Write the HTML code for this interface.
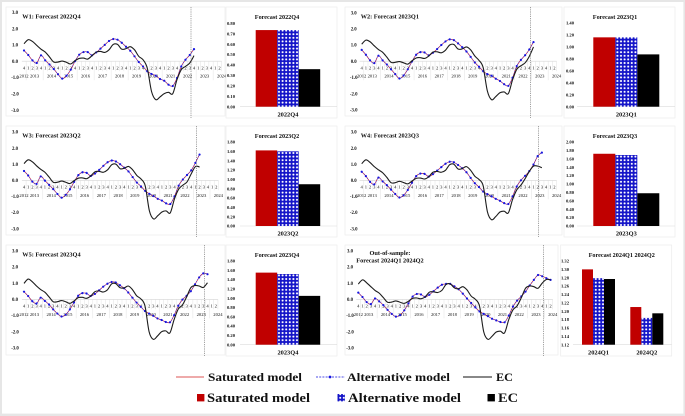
<!DOCTYPE html>
<html lang="en">
<head>
<meta charset="utf-8">
<title>Forecast comparison charts</title>
<style>
html,body{margin:0;padding:0;background:#fff;width:685px;height:416px;overflow:hidden}
svg{display:block;font-family:"Liberation Serif",serif}
text{fill:#111}
#panels{filter:blur(0.25px)}
</style>
</head>
<body>
<svg id="figure" width="685" height="416" viewBox="0 0 685 416" xmlns="http://www.w3.org/2000/svg">
<defs>
<pattern id="dots" width="3.6" height="3.6" patternUnits="userSpaceOnUse">
<rect width="3.6" height="3.6" fill="#1414c8"/>
<circle cx="1.8" cy="1.8" r="1.05" fill="#fff"/>
</pattern>
</defs>
<rect width="685" height="416" fill="#e6e6e6"/>
<rect x="2" y="2" width="681.4" height="411.6" fill="#fff"/>
<g id="panels"></g>
<g font-weight="bold" font-size="12">
<line x1="176" x2="204" y1="377" y2="377" stroke="#d01c1c" stroke-width="0.8"/>
<text x="208" y="381" textLength="94" lengthAdjust="spacingAndGlyphs">Saturated model</text>
<line x1="316" x2="345" y1="377" y2="377" stroke="#1414e0" stroke-width="0.8" stroke-dasharray="2 1.2"/>
<circle cx="330" cy="377" r="1.4" fill="#1414e0"/>
<text x="347" y="381" textLength="103" lengthAdjust="spacingAndGlyphs">Alternative model</text>
<line x1="463" x2="492" y1="377" y2="377" stroke="#111" stroke-width="0.9"/>
<text x="496" y="381" textLength="17" lengthAdjust="spacingAndGlyphs">EC</text>
</g>
<g font-weight="bold" font-size="13">
<rect x="197" y="394" width="7.4" height="7.4" fill="#c00000"/>
<text x="207" y="402" textLength="103" lengthAdjust="spacingAndGlyphs">Saturated model</text>
<rect x="337.5" y="394" width="7.4" height="7.4" fill="url(#dots)"/>
<text x="348" y="402" textLength="113" lengthAdjust="spacingAndGlyphs">Alternative model</text>
<rect x="487.5" y="394" width="7.4" height="7.4" fill="#000"/>
<text x="498" y="402" textLength="20" lengthAdjust="spacingAndGlyphs">EC</text>
</g>
</svg>
<script>
// ---------- axis labels ----------
const quarterLabels = ['4','1','2','3','4','1','2','3','4','1','2','3','4','1','2','3','4','1','2','3','4','1','2','3','4','1','2','3','4','1','2','3','4','1','2','3','4','1','2','3','4','1','2','3','4','1','2'];
const yearLabels = ['2012','2013','2014','2015','2016','2017','2018','2019','2020','2021','2022','2023','2024'];
const lineTicks = [3, 2, 1, 0, -1, -2, -3];

// ---------- line series ----------
const satW1 = [0.66,0.38,0.05,-0.11,0.36,0.05,-0.2,-0.48,-0.8,-1.07,-0.89,-0.52,0,0.4,0.56,0.56,0.36,0.54,0.77,1.0,1.24,1.36,1.32,1.13,0.89,0.64,0.3,-0.05,-0.32,-0.62,-0.78,-0.89,-1.09,-1.2,-1.44,-1.52,-1.03,-0.32,0.09,0.38,0.76];
const altW1 = [0.66,0.38,0.05,-0.11,0.36,0.05,-0.2,-0.48,-0.8,-1.07,-0.89,-0.52,0,0.4,0.56,0.56,0.36,0.54,0.77,1.0,1.24,1.36,1.32,1.13,0.89,0.64,0.3,-0.05,-0.32,-0.62,-0.78,-0.89,-1.09,-1.2,-1.44,-1.52,-1.03,-0.32,0.09,0.38,0.74];
const ecW1 = [1.07,1.32,1.21,0.97,0.74,0.56,0.26,-0.05,-0.05,0.01,-0.07,-0.17,0.03,0.17,0.19,0.13,0.34,0.56,0.6,0.54,0.7,1.03,1.03,0.74,0.77,0.89,0.7,0.3,0.09,-0.42,-1.85,-2.36,-2.19,-1.99,-1.91,-1.99,-1.13,-0.52,-0.32,-0.11,0.34];

const satW2 = [0.7,0.4,0.05,-0.12,0.34,0.05,-0.2,-0.5,-0.8,-1.07,-0.88,-0.5,-0.02,0.4,0.56,0.54,0.36,0.52,0.75,1.0,1.22,1.35,1.3,1.1,0.86,0.6,0.27,-0.08,-0.34,-0.62,-0.8,-0.9,-1.08,-1.22,-1.42,-1.52,-1.02,-0.3,0.08,0.37,0.72,1.2];
const altW2 = [0.7,0.4,0.05,-0.12,0.34,0.05,-0.2,-0.5,-0.8,-1.07,-0.88,-0.5,-0.02,0.4,0.56,0.54,0.36,0.52,0.75,1.0,1.22,1.35,1.3,1.1,0.86,0.6,0.27,-0.08,-0.34,-0.62,-0.8,-0.9,-1.08,-1.22,-1.42,-1.52,-1.02,-0.3,0.08,0.37,0.72,1.18];
const ecW2 = [1.05,1.3,1.2,0.95,0.72,0.55,0.25,-0.07,-0.07,-0.02,-0.1,-0.18,0.02,0.2,0.22,0.17,0.32,0.56,0.58,0.52,0.68,1.0,1.03,0.75,0.76,0.88,0.7,0.32,0.05,-0.4,-1.85,-2.38,-2.18,-1.95,-1.9,-2.0,-1.15,-0.5,-0.28,-0.1,0.3,0.88];

const satW3 = [0.58,0.3,-0.08,-0.22,0.24,-0.02,-0.28,-0.55,-0.85,-1.08,-0.9,-0.56,-0.1,0.32,0.5,0.46,0.27,0.42,0.65,0.9,1.12,1.23,1.17,1.0,0.78,0.55,0.2,-0.14,-0.38,-0.66,-0.84,-0.98,-1.15,-1.26,-1.43,-1.47,-1.0,-0.33,0.05,0.33,0.62,1.08,1.62];
const altW3 = [0.58,0.3,-0.08,-0.22,0.24,-0.02,-0.28,-0.55,-0.85,-1.08,-0.9,-0.56,-0.1,0.32,0.5,0.46,0.27,0.42,0.65,0.9,1.12,1.23,1.17,1.0,0.78,0.55,0.2,-0.14,-0.38,-0.66,-0.84,-0.98,-1.15,-1.26,-1.43,-1.47,-1.0,-0.33,0.05,0.33,0.62,1.08,1.6];
const ecW3 = [1.04,1.27,1.15,0.9,0.68,0.5,0.2,-0.12,-0.12,-0.05,-0.12,-0.2,-0.02,0.13,0.15,0.1,0.28,0.53,0.55,0.5,0.65,0.97,1.0,0.72,0.75,0.86,0.65,0.3,0.08,-0.35,-1.9,-2.4,-2.2,-1.97,-1.9,-2.02,-1.15,-0.55,-0.3,-0.1,0.4,0.85,0.83];

const satW4 = [0.53,0.26,-0.1,-0.25,0.17,-0.07,-0.3,-0.58,-0.85,-1.07,-0.93,-0.6,-0.15,0.26,0.42,0.4,0.23,0.38,0.6,0.82,1.03,1.15,1.12,0.95,0.75,0.5,0.15,-0.18,-0.42,-0.7,-0.86,-1.0,-1.15,-1.27,-1.42,-1.47,-1.0,-0.38,0,0.28,0.57,0.98,1.5,1.74];
const altW4 = [0.53,0.26,-0.1,-0.25,0.17,-0.07,-0.3,-0.58,-0.85,-1.07,-0.93,-0.6,-0.15,0.26,0.42,0.4,0.23,0.38,0.6,0.82,1.03,1.15,1.12,0.95,0.75,0.5,0.15,-0.18,-0.42,-0.7,-0.86,-1.0,-1.15,-1.27,-1.42,-1.47,-1.0,-0.38,0,0.28,0.57,0.98,1.5,1.72];
const ecW4 = [1.03,1.27,1.1,0.85,0.65,0.47,0.18,-0.15,-0.15,-0.06,-0.14,-0.22,-0.05,0.12,0.14,0.08,0.22,0.5,0.55,0.5,0.62,0.97,1.0,0.7,0.73,0.85,0.62,0.25,0.05,-0.35,-1.95,-2.45,-2.25,-1.97,-1.92,-2.02,-1.2,-0.6,-0.3,0.1,0.55,0.88,0.88,0.78];

const satW5 = [0.47,0.2,-0.12,-0.26,0.1,-0.1,-0.32,-0.62,-0.88,-1.06,-0.95,-0.62,-0.2,0.22,0.38,0.36,0.2,0.33,0.55,0.78,0.96,1.07,1.04,0.87,0.68,0.42,0.1,-0.2,-0.46,-0.72,-0.88,-1.02,-1.18,-1.28,-1.4,-1.42,-0.98,-0.4,-0.02,0.22,0.5,0.92,1.35,1.6,1.57];
const altW5 = [0.47,0.2,-0.12,-0.26,0.1,-0.1,-0.32,-0.62,-0.88,-1.06,-0.95,-0.62,-0.2,0.22,0.38,0.36,0.2,0.33,0.55,0.78,0.96,1.07,1.04,0.87,0.68,0.42,0.1,-0.2,-0.46,-0.72,-0.88,-1.02,-1.18,-1.28,-1.4,-1.42,-0.98,-0.4,-0.02,0.22,0.5,0.92,1.35,1.6,1.55];
const ecW5 = [0.98,1.25,1.08,0.82,0.6,0.44,0.15,-0.15,-0.15,-0.08,-0.15,-0.25,-0.1,0.1,0.12,0.06,0.2,0.47,0.52,0.45,0.58,0.95,0.97,0.72,0.7,0.82,0.6,0.22,0.03,-0.4,-2.0,-2.47,-2.27,-2.0,-1.95,-2.07,-1.25,-0.6,-0.35,0.15,0.72,0.85,0.82,0.73,1.02];

const satW6 = [0.41,0.14,-0.17,-0.3,0.05,-0.13,-0.36,-0.65,-0.9,-1.07,-0.98,-0.68,-0.25,0.17,0.33,0.3,0.15,0.28,0.5,0.72,0.9,0.95,0.95,0.8,0.62,0.35,0.05,-0.23,-0.5,-0.75,-0.9,-1.04,-1.2,-1.3,-1.4,-1.42,-1.0,-0.45,-0.08,0.18,0.47,0.85,1.2,1.5,1.43,1.31,1.2];
const altW6 = [0.41,0.14,-0.17,-0.3,0.05,-0.13,-0.36,-0.65,-0.9,-1.07,-0.98,-0.68,-0.25,0.17,0.33,0.3,0.15,0.28,0.5,0.72,0.9,0.95,0.95,0.8,0.62,0.35,0.05,-0.23,-0.5,-0.75,-0.9,-1.04,-1.2,-1.3,-1.4,-1.42,-1.0,-0.45,-0.08,0.18,0.47,0.85,1.2,1.5,1.42,1.3,1.2];
const ecW6 = [0.94,1.2,1.02,0.78,0.55,0.38,0.1,-0.18,-0.17,-0.1,-0.18,-0.25,-0.12,0.06,0.08,0.03,0.15,0.44,0.46,0.42,0.55,0.92,0.95,0.7,0.65,0.78,0.58,0.2,0,-0.42,-2.0,-2.47,-2.28,-2.02,-1.97,-2.07,-1.25,-0.65,-0.4,0.1,0.68,0.82,0.78,0.68,1.0,1.22,1.2];

// ---------- bar series ----------
const barCatsW1 = ['2022Q4'];
const barSatW1 = [0.735];
const barAltW1 = [0.735];
const barEcW1 = [0.36];
const barTicksW1 = ['0.00','0.10','0.20','0.30','0.40','0.50','0.60','0.70','0.80'];

const barCatsW2 = ['2023Q1'];
const barSatW2 = [1.16];
const barAltW2 = [1.16];
const barEcW2 = [0.875];
const barTicksW2 = ['0.00','0.20','0.40','0.60','0.80','1.00','1.20','1.40'];

const barCatsW3 = ['2023Q2'];
const barSatW3 = [1.62];
const barAltW3 = [1.6];
const barEcW3 = [0.895];
const barTicksW3 = ['0.00','0.20','0.40','0.60','0.80','1.00','1.20','1.40','1.60','1.80'];

const barCatsW4 = ['2023Q3'];
const barSatW4 = [1.72];
const barAltW4 = [1.69];
const barEcW4 = [0.78];
const barTicksW4 = ['0.00','0.20','0.40','0.60','0.80','1.00','1.20','1.40','1.60','1.80','2.00'];

const barCatsW5 = ['2023Q4'];
const barSatW5 = [1.55];
const barAltW5 = [1.52];
const barEcW5 = [1.05];
const barTicksW5 = ['0.00','0.20','0.40','0.60','0.80','1.00','1.20','1.40','1.60','1.80'];

const barCatsW6 = ['2024Q1','2024Q2'];
const barSatW6 = [1.30,1.21];
const barAltW6 = [1.279,1.184];
const barEcW6 = [1.277,1.195];
const barTicksW6 = ['1.12','1.14','1.16','1.18','1.20','1.22','1.24','1.26','1.28','1.30','1.32'];

// ---------- panel definitions ----------
const panels = [
 {id:'w1',title:['W1: Forecast 2022Q4'],barTitle:'Forecast 2022Q4',sat:satW1,alt:altW1,ec:ecW1,cats:barCatsW1,bs:barSatW1,ba:barAltW1,be:barEcW1,ticks:barTicksW1,
  box:[6,7,219,109],titleX:22.3,titleY:18.5,x0:24,step:4.25,zero:61.2,unit:16.3,vline:191,yLab:15,
  barBox:[226,7,111,111],barTop:23.3,barBase:106.7,barLab:231,axisL:240,barLeft:255.7,barW:21.5,catStep:0,barTitleX:277,barTitleY:19,catY:116.5},
 {id:'w2',title:['W2: Forecast 2023Q1'],barTitle:'Forecast 2023Q1',sat:satW2,alt:altW2,ec:ecW2,cats:barCatsW2,bs:barSatW2,ba:barAltW2,be:barEcW2,ticks:barTicksW2,
  box:[345,7,217,109],titleX:360.7,titleY:18.5,x0:361.7,step:4.19,zero:61.2,unit:16.2,vline:530.5,yLab:353.7,
  barBox:[564,7,111,111],barTop:23,barBase:106.7,barLab:570,axisL:577,barLeft:593.3,barW:22,catStep:0,barTitleX:615,barTitleY:19,catY:116.5},
 {id:'w3',title:['W3: Forecast 2023Q2'],barTitle:'Forecast 2023Q2',sat:satW3,alt:altW3,ec:ecW3,cats:barCatsW3,bs:barSatW3,ba:barAltW3,be:barEcW3,ticks:barTicksW3,
  box:[6,126,219,109],titleX:22.3,titleY:137.5,x0:24,step:4.18,zero:180.3,unit:16.1,vline:196.3,yLab:15,
  barBox:[226,126,111,111],barTop:142,barBase:226,barLab:231,axisL:240,barLeft:255.7,barW:21.5,catStep:0,barTitleX:277,barTitleY:138,catY:235.5},
 {id:'w4',title:['W4: Forecast 2023Q3'],barTitle:'Forecast 2023Q3',sat:satW4,alt:altW4,ec:ecW4,cats:barCatsW4,bs:barSatW4,ba:barAltW4,be:barEcW4,ticks:barTicksW4,
  box:[345,126,217,109],titleX:360.7,titleY:137.5,x0:361.7,step:4.19,zero:180.3,unit:16.1,vline:538.7,yLab:353.7,
  barBox:[564,126,111,111],barTop:142,barBase:226,barLab:570,axisL:577,barLeft:593.3,barW:22,catStep:0,barTitleX:615,barTitleY:138,catY:235.5},
 {id:'w5',title:['W5: Forecast 2023Q4'],barTitle:'Forecast 2023Q4',sat:satW5,alt:altW5,ec:ecW5,cats:barCatsW5,bs:barSatW5,ba:barAltW5,be:barEcW5,ticks:barTicksW5,
  box:[6,245,219,110],titleX:22.3,titleY:256.5,x0:24,step:4.17,zero:299.3,unit:16.2,vline:204.3,yLab:15,
  barBox:[226,245,111,111],barTop:261,barBase:344.7,barLab:231,axisL:240,barLeft:255.7,barW:21.5,catStep:0,barTitleX:277,barTitleY:257,catY:354.5},
 {id:'w6',title:['Out-of-sample:','Forecast 2024Q1 2024Q2'],barTitle:'Forecast 2024Q1 2024Q2',sat:satW6,alt:altW6,ec:ecW6,cats:barCatsW6,bs:barSatW6,ba:barAltW6,be:barEcW6,ticks:barTicksW6,
  box:[345,245,213,110],titleX:390,titleY:255,x0:358.3,step:4.18,zero:299.3,unit:16.2,vline:543.3,yLab:350,
  barBox:[560.7,245,111,111],barTop:261,barBase:344.7,barLab:565,axisL:573,barLeft:582,barW:11,catStep:48.3,barTitleX:621.7,barTitleY:257,catY:354.5}
];

// ---------- drawing ----------
const NS = 'http://www.w3.org/2000/svg';
const root = document.getElementById('panels');

function mk(parent, tag, attrs, txt) {
  const el = document.createElementNS(NS, tag);
  for (const k in attrs) el.setAttribute(k, attrs[k]);
  if (txt !== undefined) el.textContent = txt;
  parent.appendChild(el);
  return el;
}

function smoothPath(pts) {
  let d = 'M' + pts[0][0].toFixed(2) + ' ' + pts[0][1].toFixed(2);
  for (let i = 0; i < pts.length - 1; i++) {
    const p0 = pts[Math.max(i - 1, 0)], p1 = pts[i], p2 = pts[i + 1], p3 = pts[Math.min(i + 2, pts.length - 1)];
    const c1x = p1[0] + (p2[0] - p0[0]) / 6, c1y = p1[1] + (p2[1] - p0[1]) / 6;
    const c2x = p2[0] - (p3[0] - p1[0]) / 6, c2y = p2[1] - (p3[1] - p1[1]) / 6;
    d += 'C' + c1x.toFixed(2) + ' ' + c1y.toFixed(2) + ' ' + c2x.toFixed(2) + ' ' + c2y.toFixed(2) + ' ' + p2[0].toFixed(2) + ' ' + p2[1].toFixed(2);
  }
  return d;
}

panels.forEach(function (p) {
  const xScale = function (i) { return p.x0 + i * p.step; };
  const yScale = function (v) { return p.zero - v * p.unit; };

  const g = mk(root, 'g', {});
  
  

  const box = mk(g, 'rect', {x: p.box[0], y: p.box[1], width: p.box[2], height: p.box[3], fill: '#fff', stroke: '#ececec', 'stroke-width': 0.7});
  
  

  // x axis
  const lastX = xScale(quarterLabels.length - 1) + p.step / 2;
  const axis = mk(g, 'line', {x1: p.x0 - p.step / 2, x2: lastX, y1: p.zero, y2: p.zero, stroke: '#d4d4d4', 'stroke-width': 0.6});
  
  

  quarterLabels.forEach(function (q, i) {
    const t = mk(g, 'text', {x: xScale(i), y: p.zero + 8.3, 'font-size': 4.6, 'text-anchor': 'middle'}, q);
    
    
    const isYear = q === '4';
    const tick = mk(g, 'line', {x1: xScale(i) + p.step / 2, x2: xScale(i) + p.step / 2, y1: p.zero, y2: p.zero + (isYear ? 19 : 10), stroke: '#e2e2e2', 'stroke-width': 0.5});
    
    
  });

  yearLabels.forEach(function (y, i) {
    const idx = i === 0 ? 0 : i * 4 - 1.5;
    const t = mk(g, 'text', {x: xScale(idx), y: p.zero + 16.5, 'font-size': 4.6, 'text-anchor': 'middle'}, y);
    
    
  });

  // y axis labels
  lineTicks.forEach(function (v) {
    const t = mk(g, 'text', {x: p.yLab, y: yScale(v) + 1.7, 'font-size': 4.8, 'font-weight': 'bold', 'text-anchor': 'middle'}, v.toFixed(1));
    
    
  });

  // title
  p.title.forEach(function (line, i) {
    const anchor = p.title.length > 1 ? 'middle' : 'start';
    const t = mk(g, 'text', {x: p.titleX, y: p.titleY + i * 7.5, 'font-size': 6.3, 'font-weight': 'bold', 'text-anchor': anchor}, line);
    
    
  });

  // series
  const satPts = p.sat.map(function (v, i) { return [xScale(i), yScale(v)]; });
  const altPts = p.alt.map(function (v, i) { return [xScale(i), yScale(v)]; });
  const ecPts = p.ec.map(function (v, i) { return [xScale(i), yScale(v)]; });

  const satLine = mk(g, 'path', {d: smoothPath(satPts), fill: 'none', stroke: '#d8202a', 'stroke-width': 0.7});
  
  

  const altLine = mk(g, 'path', {d: smoothPath(altPts), fill: 'none', stroke: '#2a2ae0', 'stroke-width': 0.55, 'stroke-dasharray': '1.6 1'});
  
  

  altPts.forEach(function (pt) {
    const c = mk(g, 'circle', {cx: pt[0], cy: pt[1], r: 1.1, fill: '#1616e0'});
    
    
  });

  const ecLine = mk(g, 'path', {d: smoothPath(ecPts), fill: 'none', stroke: '#1c1c1c', 'stroke-width': 1.1});
  
  

  // bar chart
  const bg = mk(root, 'g', {});
  
  

  const bbox = mk(bg, 'rect', {x: p.barBox[0], y: p.barBox[1], width: p.barBox[2], height: p.barBox[3], fill: '#fff', stroke: '#ececec', 'stroke-width': 0.7});
  
  

  const tickMin = parseFloat(p.ticks[0]);
  const tickMax = parseFloat(p.ticks[p.ticks.length - 1]);
  const barY = function (v) { return p.barBase - (v - tickMin) / (tickMax - tickMin) * (p.barBase - p.barTop); };
  const barX = function (c, s) { return p.barLeft + c * p.catStep + s * p.barW; };

  p.ticks.forEach(function (lab) {
    const t = mk(bg, 'text', {x: p.barLab, y: barY(parseFloat(lab)) + 1.6, 'font-size': 4.6, 'font-weight': 'bold', 'text-anchor': 'middle'}, lab);
    
    
  });

  const baseline = mk(bg, 'line', {x1: p.axisL, x2: p.barBox[0] + p.barBox[2], y1: p.barBase, y2: p.barBase, stroke: '#dcdcdc', 'stroke-width': 0.6});
  
  

  p.cats.forEach(function (cat, c) {
    const r1 = mk(bg, 'rect', {x: barX(c, 0), y: barY(p.bs[c]), width: p.barW, height: p.barBase - barY(p.bs[c]), fill: '#c00000'});
    
    

    const r2 = mk(bg, 'rect', {x: barX(c, 1), y: barY(p.ba[c]), width: p.barW, height: p.barBase - barY(p.ba[c]), fill: 'url(#dots)'});
    
    

    const r3 = mk(bg, 'rect', {x: barX(c, 2), y: barY(p.be[c]), width: p.barW, height: p.barBase - barY(p.be[c]), fill: '#000'});
    
    

    const t = mk(bg, 'text', {x: barX(c, 1.5), y: p.catY, 'font-size': 6.4, 'font-weight': 'bold', 'text-anchor': 'middle'}, cat);
    
    
  });

  const bt = mk(bg, 'text', {x: p.barTitleX, y: p.barTitleY, 'font-size': 6.2, 'font-weight': 'bold', 'text-anchor': 'middle'}, p.barTitle);
  
  

  // forecast divider drawn last so it overlays the frame
  const v = mk(root, 'line', {x1: p.vline, x2: p.vline, y1: p.box[1], y2: p.box[1] + 111, stroke: '#666', 'stroke-width': 0.6, 'stroke-dasharray': '1.2 1'});
  
  
});
</script>
</body>
</html>
